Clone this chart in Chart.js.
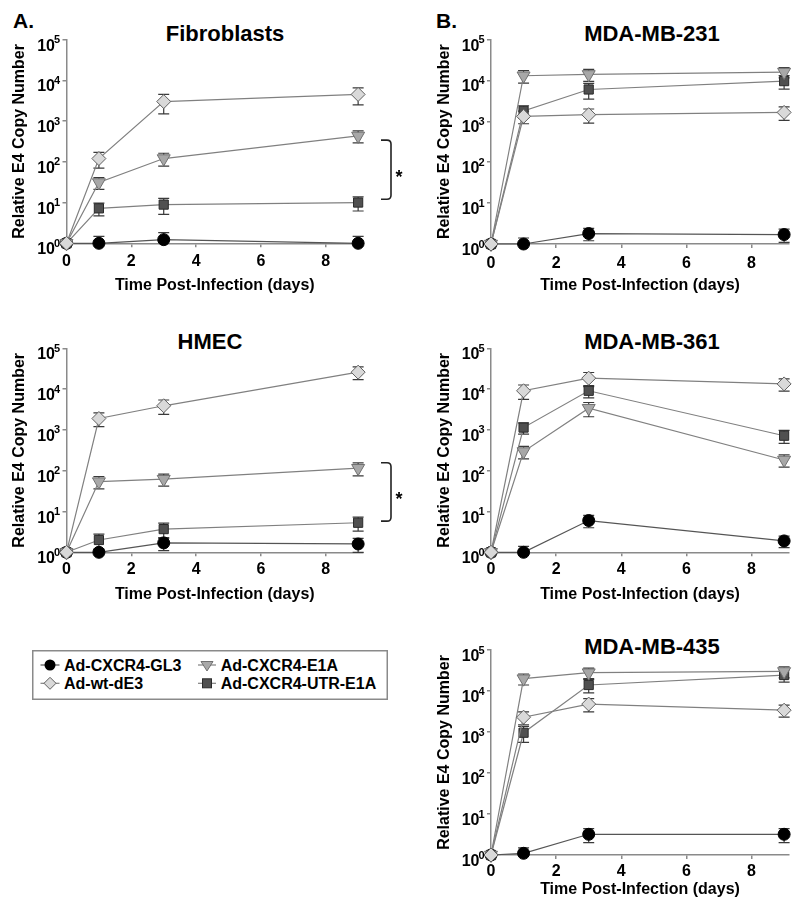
<!DOCTYPE html>
<html>
<head>
<meta charset="utf-8">
<script src="https://cdn.jsdelivr.net/npm/chart.js@4.4.1/dist/chart.umd.min.js"></script>
<style>
  body { margin: 0; background: #fff; width: 800px; height: 903px; position: relative; overflow: hidden;
         font-family: "Liberation Sans", Arial, sans-serif; }
  canvas { position: absolute; }
  .lbl { position: absolute; font-weight: bold; font-size: 21px; line-height: 1; color: #000; }
  .ttl { position: absolute; width: 240px; text-align: center; font-weight: bold; font-size: 22px; line-height: 1; color: #000; }
  #legend { position: absolute; left: 32px; top: 650px; }
  #legend text { font-family: "Liberation Sans", Arial, sans-serif; font-weight: bold; font-size: 16px; }
</style>
</head>
<body>
<div class="lbl" style="left:13px;top:10px">A.</div>
<div class="lbl" style="left:436px;top:10px">B.</div>
<div class="ttl" style="left:105px;top:23px">Fibroblasts</div>
<div class="ttl" style="left:532px;top:23px">MDA-MB-231</div>
<div class="ttl" style="left:90px;top:331px">HMEC</div>
<div class="ttl" style="left:532px;top:331px">MDA-MB-361</div>
<div class="ttl" style="left:532px;top:636px">MDA-MB-435</div>

<canvas id="c1" width="410" height="300" style="left:0;top:0"></canvas>
<canvas id="c2" width="400" height="300" style="left:400px;top:0"></canvas>
<canvas id="c3" width="410" height="310" style="left:0;top:300px"></canvas>
<canvas id="c4" width="400" height="310" style="left:400px;top:300px"></canvas>
<canvas id="c5" width="400" height="293" style="left:400px;top:610px"></canvas>

<svg id="legend" width="358" height="52">
  <rect x="0.75" y="0.75" width="354.5" height="48.5" fill="#fff" stroke="#8a8a8a" stroke-width="1.5"/>
  <line x1="8.5" y1="15" x2="27.5" y2="15" stroke="#555" stroke-width="1.2"/>
  <circle cx="18" cy="15" r="5.5" fill="#000"/>
  <text x="32" y="20.7">Ad-CXCR4-GL3</text>
  <line x1="8.5" y1="33.3" x2="27.5" y2="33.3" stroke="#808080" stroke-width="1.2"/>
  <path d="M12 33.3 L18 27.3 L24 33.3 L18 39.3 Z" fill="#d9d9d9" stroke="#606060"/>
  <text x="32" y="39">Ad-wt-dE3</text>
  <line x1="166" y1="15" x2="184" y2="15" stroke="#808080" stroke-width="1.2"/>
  <path d="M169 11.5 L181 11.5 L175 21 Z" fill="#a8a8a8" stroke="#707070"/>
  <text x="188.7" y="20.7">Ad-CXCR4-E1A</text>
  <line x1="166" y1="33.3" x2="184" y2="33.3" stroke="#808080" stroke-width="1.2"/>
  <rect x="170.5" y="28.8" width="9" height="9" fill="#505050" stroke="#2a2a2a"/>
  <text x="188.7" y="39">Ad-CXCR4-UTR-E1A</text>
</svg>

<script>
const days = [0, 1, 3, 9];
const xTicks = [0, 2, 4, 6, 8];
const yTicks = [1, 10, 100, 1000, 10000, 100000];
const seriesNames = ['Ad-CXCR4-GL3', 'Ad-wt-dE3', 'Ad-CXCR4-E1A', 'Ad-CXCR4-UTR-E1A'];

// Fibroblasts
const fibGL3 = [1, 1, 1.23, 1];
const fibGL3Sd = [0, 0.48, 0.6, 0.48];
const fibWt = [1, 120, 3000, 4500];
const fibWtSd = [0, 50, 1500, 2000];
const fibE1A = [1, 31, 120, 430];
const fibE1ASd = [0, 10, 42, 140];
const fibUTR = [1, 7.2, 8.9, 10];
const fibUTRSd = [0, 2.5, 3.8, 3.8];
const fibBracket = [340, 12];

// MDA-MB-231
const mb231GL3 = [1, 1, 1.8, 1.7];
const mb231GL3Sd = [0, 0.4, 0.6, 0.6];
const mb231Wt = [1, 1320, 1450, 1650];
const mb231WtSd = [0, 450, 550, 600];
const mb231E1A = [1, 13000, 14000, 16000];
const mb231E1ASd = [0, 4400, 4500, 4500];
const mb231UTR = [1, 1800, 6000, 9600];
const mb231UTRSd = [0, 600, 2500, 3500];

// HMEC
const hmecGL3 = [1, 1, 1.7, 1.6];
const hmecGL3Sd = [0, 0, 0.6, 0.6];
const hmecWt = [1, 1900, 3900, 26000];
const hmecWtSd = [0, 700, 1500, 9000];
const hmecE1A = [1, 54, 62, 115];
const hmecE1ASd = [0, 18, 20, 40];
const hmecUTR = [1, 2.0, 3.7, 5.3];
const hmecUTRSd = [0, 0.8, 1.5, 2.0];
const hmecBracket = [157, 5.8];

// MDA-MB-361
const mb361GL3 = [1, 1, 6.0, 1.9];
const mb361GL3Sd = [0, 0.4, 2.0, 0.6];
const mb361Wt = [1, 9100, 18500, 13400];
const mb361WtSd = [0, 3500, 7000, 4500];
const mb361E1A = [1, 295, 3400, 183];
const mb361E1ASd = [0, 100, 1300, 60];
const mb361UTR = [1, 1140, 9100, 720];
const mb361UTRSd = [0, 350, 3000, 250];

// MDA-MB-435
const mb435GL3 = [1, 1.1, 3.2, 3.2];
const mb435GL3Sd = [0, 0.4, 1.2, 1.2];
const mb435Wt = [1, 2300, 4800, 3400];
const mb435WtSd = [0, 800, 1700, 1100];
const mb435E1A = [1, 20000, 28000, 30000];
const mb435E1ASd = [0, 6000, 8000, 9000];
const mb435UTR = [1, 960, 14000, 24500];
const mb435UTRSd = [0, 400, 5000, 8000];

const FONT = '"Liberation Sans", Arial, sans-serif';
const AXIS = '#8a8a8a';

// marker look for each series, same order as seriesNames
const styles = [
  {pointStyle: 'circle', radius: 6, fill: '#000', edge: '#000', line: '#555', rot: 0, order: 3},
  {pointStyle: 'rectRot', radius: 7, fill: '#d9d9d9', edge: '#606060', line: '#808080', rot: 0, order: 0},
  {pointStyle: 'triangle', radius: 7.5, fill: '#a8a8a8', edge: '#707070', line: '#808080', rot: 180, order: 1},
  {pointStyle: 'rect', radius: 6.5, fill: '#505050', edge: '#2a2a2a', line: '#808080', rot: 0, order: 2}
];

const errorBars = {
  id: 'errorBars',
  beforeDatasetsDraw(chart) {
    const {ctx, chartArea, scales: {x, y}} = chart;
    ctx.save();
    ctx.strokeStyle = '#3a3a3a';
    ctx.lineWidth = 1.2;
    chart.data.datasets.forEach(ds => {
      ds.data.forEach((p, j) => {
        const sd = ds.errors[j];
        if (!sd) return;
        const px = x.getPixelForValue(p.x);
        const top = y.getPixelForValue(p.y + sd);
        let bot = y.getPixelForValue(Math.max(p.y - sd, 0.01));
        const cut = bot > chartArea.bottom;
        if (cut) bot = chartArea.bottom;
        ctx.beginPath();
        ctx.moveTo(px, top); ctx.lineTo(px, bot);
        ctx.moveTo(px - 5.5, top); ctx.lineTo(px + 5.5, top);
        if (!cut) { ctx.moveTo(px - 5.5, bot); ctx.lineTo(px + 5.5, bot); }
        ctx.stroke();
      });
    });
    ctx.restore();
  }
};

// 10 with superscript exponent on the log axis
const powerLabels = {
  id: 'powerLabels',
  afterDraw(chart) {
    const {ctx, scales: {y}} = chart;
    const ax = chart.chartArea.left;
    ctx.save();
    ctx.fillStyle = '#000';
    ctx.textBaseline = 'alphabetic';
    y.ticks.forEach(t => {
      const py = y.getPixelForValue(t.value);
      ctx.font = 'bold 16px ' + FONT;
      ctx.textAlign = 'right';
      ctx.fillText('10', ax - 11.5, py + 11);
      ctx.font = 'bold 11px ' + FONT;
      ctx.textAlign = 'left';
      ctx.fillText(String(Math.round(Math.log10(t.value))), ax - 12.5, py + 3.5);
    });
    ctx.restore();
  }
};

const bracket = {
  id: 'bracket',
  afterDraw(chart, args, opts) {
    if (!opts || !opts.range) return;
    const {ctx, chartArea, scales: {y}} = chart;
    const t = y.getPixelForValue(opts.range[0]);
    const b = y.getPixelForValue(opts.range[1]);
    const x0 = chartArea.right + 18, x1 = chartArea.right + 28, r = 4;
    ctx.save();
    ctx.strokeStyle = '#222';
    ctx.lineWidth = 1.6;
    ctx.beginPath();
    ctx.moveTo(x0, t);
    ctx.lineTo(x1 - r, t);
    ctx.quadraticCurveTo(x1, t, x1, t + r);
    ctx.lineTo(x1, b - r);
    ctx.quadraticCurveTo(x1, b, x1 - r, b);
    ctx.lineTo(x0, b);
    ctx.stroke();
    ctx.fillStyle = '#000';
    ctx.font = 'bold 18px ' + FONT;
    ctx.textAlign = 'center';
    ctx.textBaseline = 'alphabetic';
    ctx.fillText('*', x1 + 8, (t + b) / 2 + 13);
    ctx.restore();
  }
};

function makeSeries(vals, sds, i) {
  const s = styles[i];
  return {
    label: seriesNames[i],
    data: days.map((d, j) => ({x: d, y: vals[j]})),
    errors: sds,
    borderColor: s.line,
    borderWidth: 1.2,
    pointStyle: s.pointStyle,
    pointRadius: s.radius,
    pointRotation: s.rot,
    pointBackgroundColor: s.fill,
    pointBorderColor: s.edge,
    pointBorderWidth: 1,
    clip: false,
    order: s.order
  };
}

function panel(id, series, pad, xHeight, tickPad, titlePad, bracketRange) {
  new Chart(document.getElementById(id), {
    type: 'line',
    data: {datasets: series.map((s, i) => makeSeries(s[0], s[1], i))},
    options: {
      responsive: false,
      animation: false,
      devicePixelRatio: 1,
      events: [],
      layout: {padding: pad},
      plugins: {
        legend: {display: false},
        tooltip: {enabled: false},
        bracket: {range: bracketRange}
      },
      scales: {
        x: {
          type: 'linear', min: 0, max: 9.15,
          afterBuildTicks: s => { s.ticks = xTicks.map(v => ({value: v})); },
          afterFit: s => { s.height = xHeight; },
          border: {color: AXIS, width: 1.5},
          grid: {drawOnChartArea: false, tickLength: 4, color: AXIS, lineWidth: 1.5},
          ticks: {font: {family: FONT, size: 16, weight: 'bold'}, color: '#000', padding: tickPad, maxRotation: 0, autoSkip: false},
          title: {display: true, text: 'Time Post-Infection (days)', color: '#000',
                  font: {family: FONT, size: 16, weight: 'bold'}, padding: {top: 0, bottom: titlePad}}
        },
        y: {
          type: 'logarithmic', min: 1, max: 100000,
          afterBuildTicks: s => { s.ticks = yTicks.map(v => ({value: v})); },
          afterFit: s => { s.width = 66.5; },
          border: {color: AXIS, width: 1.5},
          grid: {drawOnChartArea: false, tickLength: 4, color: AXIS, lineWidth: 1.5},
          ticks: {callback: () => '', autoSkip: false},
          title: {display: true, text: 'Relative E4 Copy Number', color: '#000',
                  font: {family: FONT, size: 16, weight: 'bold'}, padding: {top: 10, bottom: 0}}
        }
      }
    },
    plugins: [errorBars, powerLabels, bracket]
  });
}

panel('c1', [[fibGL3, fibGL3Sd], [fibWt, fibWtSd], [fibE1A, fibE1ASd], [fibUTR, fibUTRSd]],
      {left: 0, top: 39.5, right: 47, bottom: 0}, 56.7, 5.1, 4.4, fibBracket);
panel('c2', [[mb231GL3, mb231GL3Sd], [mb231Wt, mb231WtSd], [mb231E1A, mb231E1ASd], [mb231UTR, mb231UTRSd]],
      {left: 24.5, top: 39.5, right: 11, bottom: 0}, 56, 5.7, 4.4, null);
panel('c3', [[hmecGL3, hmecGL3Sd], [hmecWt, hmecWtSd], [hmecE1A, hmecE1ASd], [hmecUTR, hmecUTRSd]],
      {left: 0, top: 48.3, right: 47, bottom: 0}, 57.7, 3.4, 5.4, hmecBracket);
panel('c4', [[mb361GL3, mb361GL3Sd], [mb361Wt, mb361WtSd], [mb361E1A, mb361E1ASd], [mb361UTR, mb361UTRSd]],
      {left: 24.5, top: 48.3, right: 11, bottom: 0}, 57.7, 3.4, 5.4, null);
panel('c5', [[mb435GL3, mb435GL3Sd], [mb435Wt, mb435WtSd], [mb435E1A, mb435E1ASd], [mb435UTR, mb435UTRSd]],
      {left: 24.5, top: 40, right: 11, bottom: 0}, 48, 3.1, 4.1, null);
</script>
</body>
</html>
